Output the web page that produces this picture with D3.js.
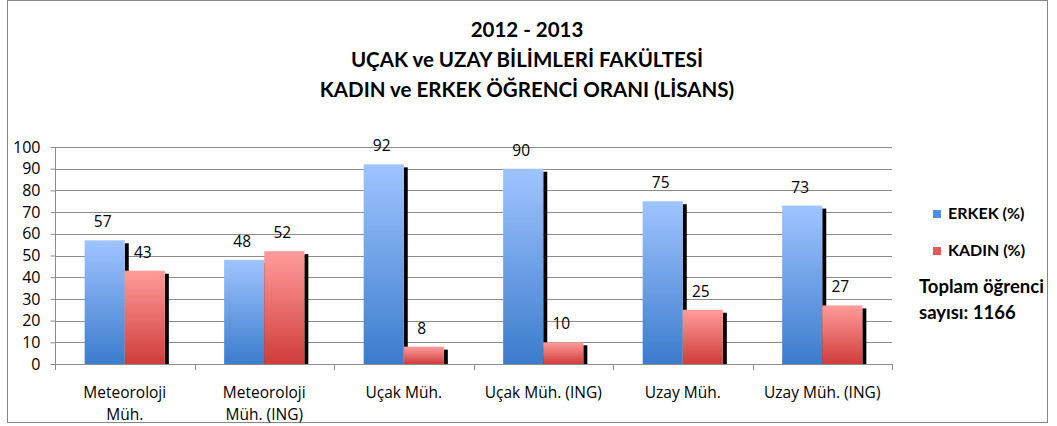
<!DOCTYPE html>
<html lang="tr">
<head>
  <meta charset="UTF-8">
  <title>Kadın ve Erkek Öğrenci Oranı</title>
  <style>
    body { margin: 0; background: #fff; font-family: 'Lato', 'Open Sans', sans-serif; }
    svg text { fill: #000; }
  </style>
</head>
<body>
  <svg id="chart" width="1057" height="426"></svg>

  <script src="https://d3js.org/d3.v7.min.js"></script>
  <script>
    // chart data
    const categories = [["Meteoroloji", "Müh."], ["Meteoroloji", "Müh. (ING)"], ["Uçak Müh."], ["Uçak Müh. (ING)"], ["Uzay Müh."], ["Uzay Müh. (ING)"]];
    const erkek = [57, 48, 92, 90, 75, 73];
    const kadin = [43, 52, 8, 10, 25, 27];
    const seriesNames = ["ERKEK (%)", "KADIN (%)"];
    const yTicks = [0, 10, 20, 30, 40, 50, 60, 70, 80, 90, 100];
    const titleLines = ["2012 - 2013", "UÇAK ve UZAY BİLİMLERİ FAKÜLTESİ", "KADIN ve ERKEK ÖĞRENCİ ORANI (LİSANS)"];
    const noteLines = ["Toplam öğrenci", "sayısı: 1166"];

    const svg = d3.select('#chart');
    const plot = { left: 55, right: 892, top: 147, bottom: 364 };

    // outer frame
    svg.append('rect')
      .attr('x', 7.5).attr('y', 0.5)
      .attr('width', 1040).attr('height', 422)
      .attr('fill', '#fff').attr('stroke', '#868686').attr('stroke-width', 1);

    // gradients
    const defs = svg.append('defs');
    function grad(id, top, bottom) {
      const g = defs.append('linearGradient').attr('id', id)
        .attr('x1', 0).attr('y1', 0).attr('x2', 0).attr('y2', 1);
      g.append('stop').attr('offset', '0%').attr('stop-color', top);
      g.append('stop').attr('offset', '100%').attr('stop-color', bottom);
    }
    grad('gBlue', '#9fc4ff', '#3b7ccc');
    grad('gRed', '#ff9c9a', '#cf3d3b');
    const fills = ['url(#gBlue)', 'url(#gRed)'];
    const legendFills = ['#4f8ede', '#e05a58'];

    const x = d3.scaleBand().domain(d3.range(categories.length)).range([plot.left, plot.right]);
    const xs = d3.scaleBand().domain([0, 1]).range([0, x.bandwidth()]).paddingOuter(0.74).paddingInner(0);
    const y = d3.scaleLinear().domain([0, 100]).range([plot.bottom, plot.top]);

    // gridlines
    svg.append('g').selectAll('line').data(yTicks.filter(d => d > 0)).enter().append('line')
      .attr('x1', plot.left).attr('x2', plot.right)
      .attr('y1', d => Math.round(y(d)) + 0.5).attr('y2', d => Math.round(y(d)) + 0.5)
      .attr('stroke', '#8c8c8c');

    // y axis
    const yAxis = svg.append('g').attr('transform', `translate(${plot.left + 0.5},0)`)
      .call(d3.axisLeft(y).tickValues(yTicks).tickSize(5).tickPadding(10));
    yAxis.select('.domain').attr('stroke', '#8c8c8c').attr('d', `M0,${plot.top}V${plot.bottom + 0.5}`);
    yAxis.selectAll('.tick line').attr('stroke', '#8c8c8c');
    yAxis.selectAll('text').attr('font-size', 16).attr('font-family', "'Open Sans', sans-serif");

    // bars
    const data = [];
    categories.forEach((c, i) => {
      data.push({ cat: i, s: 0, v: erkek[i] });
      data.push({ cat: i, s: 1, v: kadin[i] });
    });
    const bw = xs.bandwidth();

    // black shadow strips, drawn under the bars
    svg.append('g').selectAll('rect').data(data).enter().append('rect')
      .attr('x', d => x(d.cat) + xs(d.s) + bw)
      .attr('y', d => y(d.v) + 3)
      .attr('width', 4)
      .attr('height', d => plot.bottom - y(d.v) - 3)
      .attr('fill', '#000');

    svg.append('g').selectAll('rect').data(data).enter().append('rect')
      .attr('x', d => x(d.cat) + xs(d.s))
      .attr('y', d => y(d.v))
      .attr('width', bw)
      .attr('height', d => plot.bottom - y(d.v))
      .attr('fill', d => fills[d.s]);

    // value labels
    svg.append('g').selectAll('text').data(data).enter().append('text')
      .attr('x', d => x(d.cat) + xs(d.s) + bw / 2 - 2)
      .attr('y', d => y(d.v) - 13)
      .attr('text-anchor', 'middle')
      .attr('font-size', 15.5)
      .attr('font-family', "'Open Sans', sans-serif")
      .text(d => d.v);

    // x axis
    svg.append('line')
      .attr('x1', plot.left).attr('x2', plot.right)
      .attr('y1', plot.bottom + 0.5).attr('y2', plot.bottom + 0.5)
      .attr('stroke', '#8c8c8c');
    svg.append('g').selectAll('line').data(d3.range(categories.length + 1)).enter().append('line')
      .attr('x1', i => Math.round(plot.left + i * x.bandwidth()) + 0.5)
      .attr('x2', i => Math.round(plot.left + i * x.bandwidth()) + 0.5)
      .attr('y1', plot.bottom).attr('y2', plot.bottom + 6)
      .attr('stroke', '#8c8c8c');

    const xl = svg.append('g').selectAll('text').data(categories).enter().append('text')
      .attr('text-anchor', 'middle')
      .attr('font-size', 15.5)
      .attr('font-family', "'Open Sans', sans-serif");
    xl.each(function (lines, i) {
      lines.forEach((t, j) => {
        d3.select(this).append('tspan')
          .attr('x', x(i) + x.bandwidth() / 2)
          .attr('y', 398 + j * 22)
          .text(t);
      });
    });

    // title
    svg.append('g').selectAll('text').data(titleLines).enter().append('text')
      .attr('x', 527).attr('y', (d, i) => 37 + i * 30)
      .attr('text-anchor', 'middle')
      .attr('font-size', 20.5).attr('font-weight', 'bold')
      .text(d => d);

    // legend
    const lg = svg.append('g').selectAll('g').data(seriesNames).enter().append('g')
      .attr('transform', (d, i) => `translate(933,${210 + i * 37})`);
    lg.append('rect').attr('width', 8).attr('height', 8).attr('fill', (d, i) => legendFills[i]);
    lg.append('text').attr('x', 15).attr('y', 9)
      .attr('font-size', 16).attr('font-weight', 'bold')
      .text(d => d);

    svg.append('g').selectAll('text').data(noteLines).enter().append('text')
      .attr('x', 919).attr('y', (d, i) => 293 + i * 26)
      .attr('font-size', 18.5).attr('font-weight', 'bold')
      .text(d => d);
  </script>
</body>
</html>
